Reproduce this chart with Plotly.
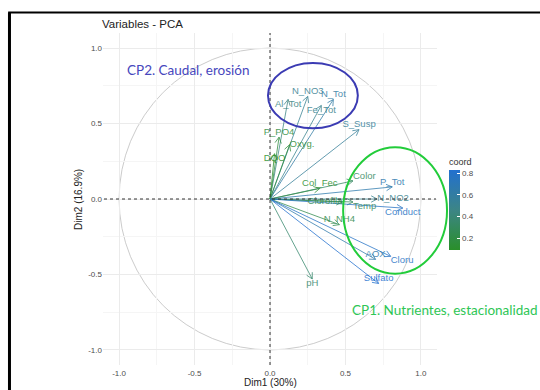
import numpy as np
import plotly.graph_objects as go
from plotly.colors import sample_colorscale

# ---- data ----
variables = ["N_NO3", "N_Tot", "Fe_Tot", "Al_Tot", "S_Susp", "P_PO4", "Oxyg.", "DQO",
             "Col_Fec", "Color", "P_Tot", "N_NO2", "Clorofila", "Temp", "Conduct",
             "N_NH4", "AOX", "Cloru", "Sulfato", "pH"]
dim1 = [0.25, 0.42, 0.34, 0.12, 0.59, 0.06, 0.13, 0.03,
        0.33, 0.55, 0.81, 0.71, 0.48, 0.55, 0.88,
        0.46, 0.70, 0.80, 0.72, 0.28]
dim2 = [0.68, 0.66, 0.62, 0.66, 0.46, 0.41, 0.36, 0.30,
        0.07, 0.12, 0.08, 0.00, -0.02, -0.02, -0.06,
        -0.17, -0.40, -0.38, -0.56, -0.53]
label_pos = ["top center", "top center", "bottom center", "bottom center", "top center",
             "top center", "middle right", "bottom center", "top center", "top right",
             "top center", "middle right", "middle left", "bottom right", "bottom center",
             "top center", "top center", "bottom right", "top center", "bottom center"]

x_ticks = [-1.0, -0.5, 0.0, 0.5, 1.0]
cbar_ticks = [0.2, 0.4, 0.6, 0.8]

x = np.array(dim1)
y = np.array(dim2)
coord = x**2 + y**2
cmin, cmax = coord.min(), coord.max()
cscale = [[0, "#2A8F2A"], [0.5, "#3C8586"], [1, "#2270CF"]]
cols = sample_colorscale(cscale, list((coord - cmin) / (cmax - cmin)))

fig = go.Figure()

# arrows
head = 0.045
ang = np.deg2rad(28)
for xi, yi, c in zip(x, y, cols):
    th = np.arctan2(yi, xi)
    hx1 = xi - head * np.cos(th - ang)
    hy1 = yi - head * np.sin(th - ang)
    hx2 = xi - head * np.cos(th + ang)
    hy2 = yi - head * np.sin(th + ang)
    fig.add_trace(go.Scatter(
        x=[0, xi, None, hx1, xi, hx2], y=[0, yi, None, hy1, yi, hy2],
        mode="lines", line=dict(color=c, width=0.9), opacity=0.85,
        hoverinfo="skip", showlegend=False))

# labels
fig.add_trace(go.Scatter(
    x=x, y=y, mode="text", text=variables, textposition=label_pos,
    textfont=dict(family="Liberation Sans, Arial", size=9.5, color=cols), opacity=0.85,
    showlegend=False, hoverinfo="skip"))

# colorbar carrier
fig.add_trace(go.Scatter(
    x=[None], y=[None], mode="markers",
    marker=dict(color=[cmin], cmin=cmin, cmax=cmax, colorscale=cscale, showscale=True,
                colorbar=dict(title=dict(text="coord", side="top",
                                         font=dict(family="Liberation Sans, Arial", size=9, color="#333")),
                              x=1.036, xanchor="left", xpad=0,
                              y=0.633, yanchor="top", ypad=0,
                              len=95, lenmode="pixels", thickness=11,
                              tickvals=cbar_ticks, ticktext=[f"{v:.1f}" for v in cbar_ticks],
                              tickfont=dict(family="Liberation Sans, Arial", size=8, color="#4d4d4d"),
                              ticks="inside", ticklen=3, tickcolor="white",
                              outlinewidth=0)),
    showlegend=False, hoverinfo="skip"))

shapes = [
    dict(type="circle", xref="x", yref="y", x0=-1, y0=-1, x1=1, y1=1,
         line=dict(color="#cccccc", width=1), layer="below"),
    dict(type="line", xref="x", yref="y", x0=0, x1=0, y0=-1.1, y1=1.1,
         line=dict(color="#333333", width=1, dash="dot")),
    dict(type="line", xref="x", yref="y", x0=-1.1, x1=1.1, y0=0, y1=0,
         line=dict(color="#333333", width=1, dash="dot")),
    # ellipses (overlay, paper coords)
    dict(type="circle", xref="paper", yref="paper", x0=0.494, x1=0.763, y0=0.713, y1=0.910,
         line=dict(color="#3B3BB3", width=2)),
    dict(type="circle", xref="paper", yref="paper", x0=0.719, x1=1.030, y0=0.275, y1=0.656,
         line=dict(color="#22CC3A", width=2)),
    # frame
    dict(type="line", xref="paper", yref="paper", x0=-0.28, x1=-0.28, y0=-0.1, y1=1.062,
         line=dict(color="black", width=3)),
    dict(type="line", xref="paper", yref="paper", x0=-0.284, x1=1.32, y0=1.062, y1=1.062,
         line=dict(color="black", width=2)),
]

annotations = [
    dict(text="Variables - PCA", xref="paper", yref="paper", x=-0.01, y=1.026,
         xanchor="left", yanchor="middle", showarrow=False,
         font=dict(family="Liberation Sans, Arial", size=11.5, color="#222")),
    dict(text="CP2. Caudal, erosión", xref="paper", yref="paper", x=0.066, y=0.89,
         xanchor="left", yanchor="middle", showarrow=False,
         font=dict(family="Lato", size=13.5, color="#4747BD")),
    dict(text="CP1. Nutrientes, estacionalidad", xref="paper", yref="paper", x=0.74, y=0.167,
         xanchor="left", yanchor="middle", showarrow=False,
         font=dict(family="Lato", size=13.5, color="#2EC655")),
    dict(text="Dim1 (30%)", xref="paper", yref="paper", x=0.5, y=-0.054,
         xanchor="center", yanchor="middle", showarrow=False,
         font=dict(family="Liberation Sans, Arial", size=10, color="#222")),
    dict(text="Dim2 (16.9%)", xref="paper", yref="paper", x=-0.075, y=0.5, textangle=-90,
         xanchor="center", yanchor="middle", showarrow=False,
         font=dict(family="Liberation Sans, Arial", size=10, color="#222")),
]

axis_common = dict(range=[-1.1, 1.1], tickvals=x_ticks, ticktext=[f"{v:.1f}" for v in x_ticks],
                   tickfont=dict(family="Liberation Sans, Arial", size=8, color="#4d4d4d"),
                   showgrid=True, gridcolor="#EBEBEB", gridwidth=1, zeroline=False,
                   showline=False, ticks="",
                   minor=dict(dtick=0.25, showgrid=True, gridcolor="#F5F5F5", gridwidth=0.6))

fig.update_layout(
    width=540, height=390,
    margin=dict(l=103, r=103, t=33, b=23),
    paper_bgcolor="white", plot_bgcolor="white",
    xaxis=dict(**axis_common, ticklabelstandoff=2),
    yaxis=dict(**axis_common, scaleanchor="x", scaleratio=1),
    shapes=shapes, annotations=annotations, showlegend=False,
)

fig.write_html("out.html")
